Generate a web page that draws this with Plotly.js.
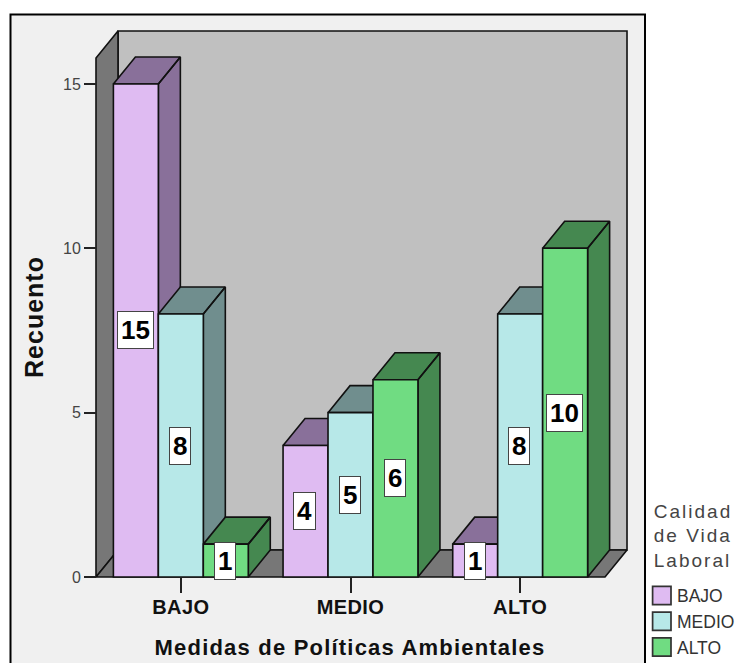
<!DOCTYPE html>
<html>
<head>
<meta charset="utf-8">
<script src="https://cdn.plot.ly/plotly-3.0.1.min.js"></script>
<style>
html,body{margin:0;padding:0;background:#fff;overflow:hidden}
#chart{width:740px;height:663px}
.legendtitletext{letter-spacing:2px;transform:translate(2px,-10.5px)}
.legend .layers{transform:translate(-3.7px,0) scale(1.15)}
.xtitle{letter-spacing:1.2px}
.ytitle{letter-spacing:1px}
.xtick text{letter-spacing:0.4px}
</style>
</head>
<body>
<div id="chart"></div>
<script>
// Survey counts by policy level and quality-of-life level
const categories = ['BAJO', 'MEDIO', 'ALTO'];
const seriesNames = ['BAJO', 'MEDIO', 'ALTO'];
const valuesBajo = [15, 4, 1];
const valuesMedio = [8, 5, 8];
const valuesAlto = [1, 6, 10];
const yTicks = [0, 5, 10, 15];
const frontColors = ['#dfbbf2', '#b7e8e8', '#70dc82'];
const sideColors = ['#89709a', '#708e8e', '#458850'];

const allValues = [valuesBajo, valuesMedio, valuesAlto];
const positions = categories.map((_, i) => i);

// Figure and plot box in pixels
const W = 740, H = 663;
const plot = {l: 68, r: 632, t: 26, b: 608};
const pxPerX = 169.67, pxPerY = 32.87;
const axisLeftPx = 96, axisBottomPx = 577;

const xRange = [-0.5 - (axisLeftPx - plot.l) / pxPerX, -0.5 + (plot.r - axisLeftPx) / pxPerX];
const yRange = [-(plot.b - axisBottomPx) / pxPerY, (axisBottomPx - plot.t) / pxPerY];
const paperX = px => (px - plot.l) / (plot.r - plot.l);
const paperY = py => 1 - (py - plot.t) / (plot.b - plot.t);

// Oblique projection offset of the depth faces, in axis units
const depthX = 22 / pxPerX, depthY = 27 / pxPerY;
const barWidth = 0.265;
const wallTop = 16.61;
const edge = '#111111';

function poly(xs, ys, fill, width) {
  return {x: xs, y: ys, type: 'scatter', mode: 'lines', fill: 'toself', fillcolor: fill,
    line: {color: edge, width: width || 1.6}, hoverinfo: 'skip', showlegend: false};
}

const traces = [];
// Walls and floor
traces.push(poly([-0.5 + depthX, 2.5 + depthX, 2.5 + depthX, -0.5 + depthX, -0.5 + depthX],
                 [depthY, depthY, wallTop, wallTop, depthY], '#c0c0c0'));
traces.push(poly([-0.5, -0.5 + depthX, -0.5 + depthX, -0.5, -0.5],
                 [0, depthY, wallTop, wallTop - depthY, 0], '#777777'));
traces.push(poly([-0.5, 2.5, 2.5 + depthX, -0.5 + depthX, -0.5],
                 [0, 0, depthY, depthY, 0], '#777777'));

// Top and side faces of every bar, drawn series by series from left to right
allValues.forEach((vals, s) => {
  const xs = [], ys = [];
  vals.forEach((v, c) => {
    const x0 = c + (s - 1.5) * barWidth, x1 = x0 + barWidth;
    xs.push(x0, x1, x1 + depthX, x0 + depthX, x0, null);
    ys.push(v, v, v + depthY, v + depthY, v, null);
    xs.push(x1, x1 + depthX, x1 + depthX, x1, x1, null);
    ys.push(0, depthY, v + depthY, v, 0, null);
  });
  traces.push(poly(xs, ys, sideColors[s]));
});

// Front faces sit on an overlaid subplot so they cover the depth faces
allValues.forEach((vals, s) => {
  traces.push({
    type: 'bar', x: positions, y: vals, name: seriesNames[s], xaxis: 'x2', yaxis: 'y2',
    width: barWidth, offset: (s - 1.5) * barWidth,
    marker: {color: frontColors[s], line: {color: edge, width: 1.6}},
    showlegend: false, hovertemplate: '%{y}<extra>' + seriesNames[s] + '</extra>'
  });
});

// Legend entries
seriesNames.forEach((name, s) => {
  traces.push({
    type: 'scatter', mode: 'markers', x: [null], y: [null], name: name,
    marker: {symbol: 'square', size: 16, color: frontColors[s], line: {color: '#333', width: 1.5}},
    hoverinfo: 'skip'
  });
});

// Value labels in the middle of each bar
const annotations = [];
allValues.forEach((vals, s) => {
  vals.forEach((v, c) => {
    annotations.push({
      x: c + (s - 1) * barWidth, y: v / 2, xref: 'x2', yref: 'y2', text: String(v), showarrow: false,
      xshift: -0.7,
      font: {family: 'Liberation Sans', size: 26, color: '#000', weight: 'bold'},
      bgcolor: '#ffffff', bordercolor: '#444', borderwidth: 1, borderpad: 3
    });
  });
});

const layout = {
  width: W, height: H,
  margin: {l: plot.l, r: W - plot.r, t: plot.t, b: H - plot.b, pad: 0, autoexpand: false},
  paper_bgcolor: '#ffffff', plot_bgcolor: 'rgba(0,0,0,0)',
  showlegend: true,
  barmode: 'overlay',
  font: {family: 'Liberation Sans', color: '#222'},
  xaxis: {
    range: xRange, anchor: 'free', position: paperY(axisBottomPx), fixedrange: true,
    tickmode: 'array', tickvals: positions, ticktext: categories,
    ticks: 'outside', ticklen: 15, tickwidth: 1.5, tickcolor: '#222', ticklabelstandoff: -3,
    tickfont: {family: 'Liberation Sans', size: 20, color: '#111', weight: 'bold'},
    showgrid: false, zeroline: false, showline: false,
    title: {text: 'Medidas de Políticas Ambientales', standoff: 22,
            font: {family: 'Liberation Sans', size: 22, color: '#111', weight: 'bold'}}
  },
  yaxis: {
    range: yRange, anchor: 'free', position: paperX(axisLeftPx), fixedrange: true,
    tickmode: 'array', tickvals: yTicks,
    ticks: 'outside', ticklen: 12, tickwidth: 1.5, tickcolor: '#222',
    tickfont: {family: 'Liberation Sans', size: 16, color: '#444'},
    showgrid: false, zeroline: false, showline: false,
    title: {text: 'Recuento', standoff: 11,
            font: {family: 'Liberation Sans', size: 25, color: '#111', weight: 'bold'}}
  },
  xaxis2: {range: xRange, overlaying: 'x', anchor: 'y2', visible: false, fixedrange: true},
  yaxis2: {range: yRange, overlaying: 'y', anchor: 'x2', visible: false, fixedrange: true},
  legend: {
    x: paperX(642.5), y: paperY(503.5), xanchor: 'left', yanchor: 'top',
    bgcolor: 'rgba(0,0,0,0)', borderwidth: 0, indentation: -5.5,
    font: {family: 'Liberation Sans', size: 17.5, color: '#333'},
    title: {text: 'Calidad<br>de Vida<br>Laboral', side: 'top center',
            font: {family: 'Liberation Sans', size: 19, color: '#444'}},
    itemclick: false, itemdoubleclick: false
  },
  annotations: annotations,
  shapes: [{
    type: 'rect', xref: 'paper', yref: 'paper', layer: 'below',
    x0: paperX(10.5), x1: paperX(645), y0: paperY(690), y1: paperY(14.5),
    fillcolor: '#f0f0f0', line: {color: '#000', width: 2}
  }]
};

Plotly.newPlot('chart', traces, layout, {displayModeBar: false});
</script>
</body>
</html>
